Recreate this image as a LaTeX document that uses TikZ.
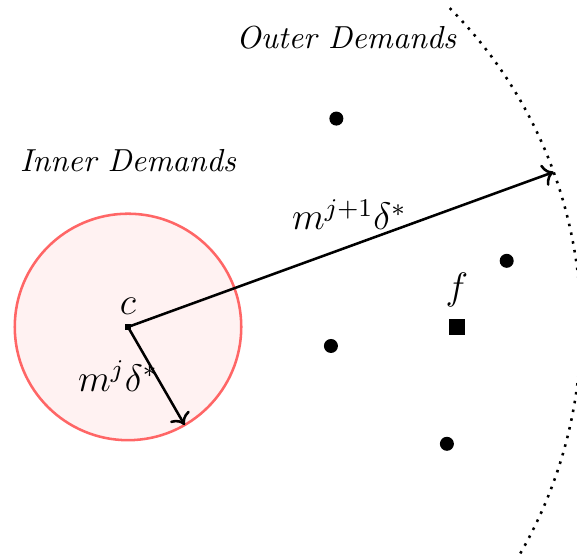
\documentclass[tikz,border=0pt]{standalone}
\usepackage{amsmath,amssymb}
\usepackage{xcolor}
\usepackage{tikz}
\usetikzlibrary{arrows.meta, positioning}
\definecolor{corRaio}{RGB}{255,102,102}

\begin{document}
\begin{tikzpicture}[
      demand/.style={circle, fill=black, inner sep=0pt, minimum size=4.4pt},
      facility/.style={rectangle, fill=black, inner sep=0pt, minimum size=4.8pt},
      center/.style={rectangle, fill=black, inner sep=0pt, minimum size=2pt},
      arrow/.style={->, thick},
      region/.style={font=\itshape}]
    \useasboundingbox (-1.413,-2.528) rectangle (4.956,3.609);
    \draw[corRaio, thick, fill=red!5] (0,0) circle (1.25);
    \draw[dotted, thick] (-30:5) arc (-30:45:5);
    \node[center] (c) at (0,0) {};
    \node[above=-0.03cm of c] {\large $c$};
    \node[facility] (f) at (3.63,0) {};
    \node[above=0cm of f] {\large $f$};
    \node[demand] (d1) at (2.3,2.3) {};
    \node[demand] (d2) at (4.18,0.73) {};
    \node[demand] (d3) at (2.24,-0.21) {};
    \node[demand] (d4) at (3.52,-1.29) {};
    \coordinate (inner) at (-60:1.25);
    \coordinate (outer) at (20:5);
    \draw[arrow] (c.center) -- node[left, xshift=0.15cm] {\large $m^{j}\delta^{*}$} (inner);
    \draw[arrow] (c.center) -- node[above=0.05cm, pos=0.52] {\large $m^{j+1}\delta^{*}$} (outer);
    \node[region] (id) at (0,1.84) {Inner Demands};
    \node[region] (od) at (2.41,3.19) {Outer Demands};
  \end{tikzpicture}
\end{document}
